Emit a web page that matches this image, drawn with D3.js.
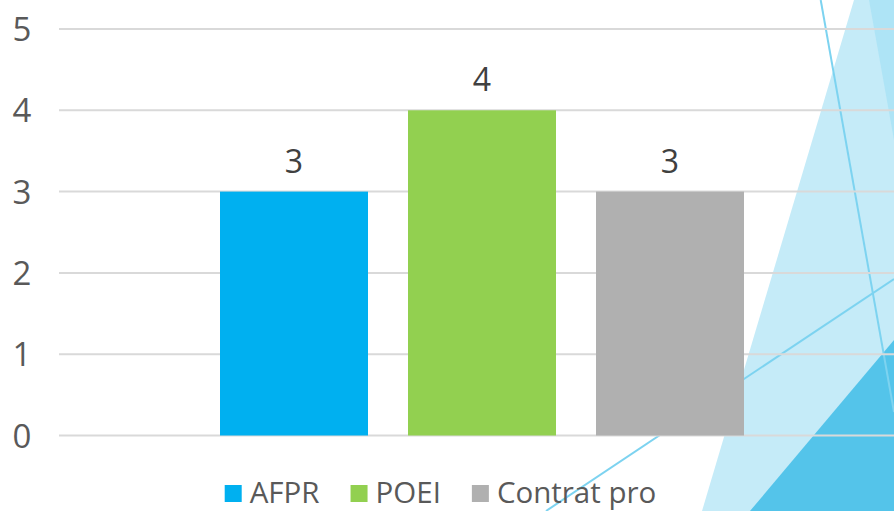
<!DOCTYPE html>
<html><head><meta charset="utf-8">
<script src="https://cdn.jsdelivr.net/npm/d3@7"></script>
<style>html,body{margin:0;padding:0;background:#fff;overflow:hidden}</style>
</head><body>
<svg id="c" width="894" height="511"></svg>
<script>
const series = ["AFPR", "POEI", "Contrat pro"];
const values = [3, 4, 3];
const colors = ["#00B0F0", "#92D050", "#B0B0B0"];
const yTicks = [0, 1, 2, 3, 4, 5];

const W = 894, H = 511;
const svg = d3.select("#c");
const font = "'Open Sans', sans-serif";

// decorative background
const deco = svg.append("g");
deco.append("polygon").attr("points", "854,0 894,0 894,511 702,511").attr("fill", "#C5EBF8");
deco.append("polygon").attr("points", "869,0 894,0 894,140").attr("fill", "#AEE4F6");
deco.append("polygon").attr("points", "894,340 894,511 750,511").attr("fill", "#54C4EA");
deco.append("line").attr("x1", 820.7).attr("y1", 0).attr("x2", 894).attr("y2", 412)
  .attr("stroke", "#7DD3F0").attr("stroke-width", 2);
deco.append("line").attr("x1", 546).attr("y1", 511).attr("x2", 894).attr("y2", 279)
  .attr("stroke", "#7DD3F0").attr("stroke-width", 2);

const y = d3.scaleLinear().domain([0, 5]).range([435.5, 29]);
const x = d3.scaleBand().domain(series).range([220, 744]).paddingInner(40 / 188).paddingOuter(0);

// gridlines
svg.append("g").selectAll("line").data(yTicks).join("line")
  .attr("x1", 59).attr("x2", 894)
  .attr("y1", d => y(d)).attr("y2", d => y(d))
  .attr("stroke", "#D9D9D9").attr("stroke-width", 2);

// y axis labels
const yAxis = d3.axisLeft(y).tickValues(yTicks).tickSize(0).tickPadding(0).tickFormat(d3.format("d"));
const ga = svg.append("g").attr("transform", "translate(22,0)").call(yAxis);
ga.select(".domain").remove();
ga.selectAll("text").attr("font-family", font).attr("font-size", 33).attr("fill", "#595959")
  .attr("dy", "0.35em").attr("text-anchor", "middle");

// bars
svg.append("g").selectAll("rect").data(series).join("rect")
  .attr("x", d => x(d)).attr("width", x.bandwidth())
  .attr("y", (d, i) => y(values[i])).attr("height", (d, i) => y(0) - y(values[i]))
  .attr("fill", (d, i) => colors[i]);

// data labels
svg.append("g").selectAll("text").data(series).join("text")
  .attr("x", d => x(d) + x.bandwidth() / 2)
  .attr("y", (d, i) => y(values[i]) - 19)
  .attr("text-anchor", "middle")
  .attr("font-family", font).attr("font-size", 32).attr("fill", "#404040")
  .text((d, i) => values[i]);

// legend
const lg = svg.append("g");
const items = lg.selectAll("g").data(series).join("g");
items.append("rect").attr("width", 17).attr("height", 17).attr("y", 485).attr("fill", (d, i) => colors[i]);
items.append("text").attr("x", 25).attr("y", 502.5)
  .attr("font-family", font).attr("font-size", 29.5).attr("fill", "#595959").text(d => d);
let xpos = 0;
const pos = [];
items.each(function () {
  const w = d3.select(this).select("text").node().getComputedTextLength();
  pos.push(xpos);
  xpos += 25 + w + 31;
});
const total = xpos - 31;
const start = 440.5 - total / 2;
items.attr("transform", (d, i) => `translate(${start + pos[i]},0)`);
</script>
</body></html>
